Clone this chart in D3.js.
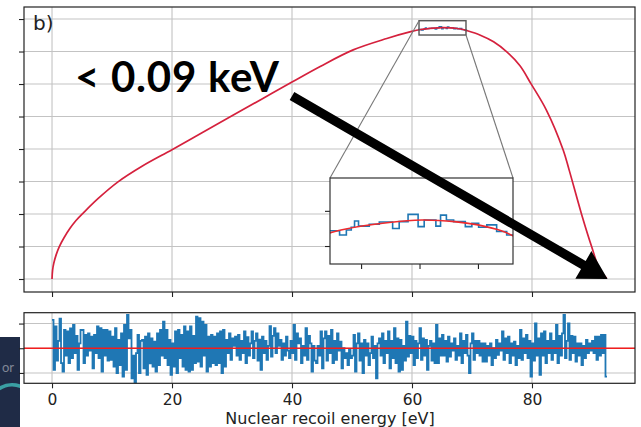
<!DOCTYPE html>
<html>
<head>
<meta charset="utf-8">
<script src="https://cdn.jsdelivr.net/npm/d3@7"></script>
<style>
  body { margin: 0; background: #fff; }
  svg { display: block; }
</style>
</head>
<body>
<svg width="641" height="427"></svg>
<script>
  // Fitted recoil spectrum, energy in eV, counts in grid units
  const curveEnergy = [0, 0.1, 0.3, 0.7, 1.2, 2, 3, 4, 5.3, 7.7, 11, 15, 20, 25, 30, 35,
    40, 44.7, 50.2, 55.8, 59.8, 61.5, 63.7, 65.1, 66.5, 67.5, 68.5, 69.0, 71.3, 73.6, 75.8,
    78, 79.8, 82.4, 85.2, 86.2, 88.3, 89.95, 91.3, 92.45];
  const curveCounts = [0, 0.28, 0.49, 0.75, 0.99, 1.27, 1.56, 1.8, 2.05, 2.48, 2.99, 3.47, 3.98, 4.5, 5.02, 5.54,
    6.06, 6.54, 7.05, 7.40, 7.61, 7.678, 7.72, 7.733, 7.725, 7.708, 7.678, 7.652, 7.51, 7.30, 6.99,
    6.56, 6.02, 5.2, 3.97, 3.35, 1.97, 0.99, 0.28, 0.02];

  // Simulated histogram around the peak (inset), bin edges and bin contents
  const insetEdges = [61.0, 61.58, 61.87, 62.08, 62.22, 62.39, 62.85, 63.28, 63.85, 64.13, 64.51, 64.94,
    65.2, 65.7, 65.9, 66.15, 66.46, 66.96, 67.24, 67.53, 67.88, 68.3, 68.73, 69.2];
  const insetCounts = [7.678, 7.656, 7.682, 7.696, 7.728, 7.702, 7.711, 7.723, 7.690, 7.725, 7.762, 7.699,
    7.733, 7.702, 7.758, 7.733, 7.725, 7.699, 7.716, 7.696, 7.708, 7.674, 7.656];

  // Residuals, one value per 0.25 eV bin starting at 0 eV
  const residualBinWidth = 0.25;
  const residuals = [
    1.15,-0.88,0.88,-0.5, 0.3,1.2,-0.6,-0.95, 0.74,-0.3,0.68,-0.6, 0.8,-0.4,0.95,-0.2, 0.5,-0.88,0.2,0.74,
    0.74,-0.6,0.54,-0.3, 0.6,-0.1,0.47,-0.81, 0.54,-0.2,0.88,-0.4, 0.81,-0.95,0.74,-0.3, 0.74,-0.5,0.68,-0.47,
    0.47,-0.74,0.81,-1.01, 0.34,-0.68,0.6,-1.15, 0.95,-0.88,1.35,0.4, 0.74,-1.22,-0.3,-1.4, -0.2,0.54,-1.01,0.3,
    0.34,-0.81,0.47,-1.08, 0.6,-0.61,0.4,-0.74, 0.27,-0.95,0.6,-0.68, 0.74,-0.3,1.08,-0.4, 0.74,-0.68,0.34,-1.08,
    0.2,-0.74,0.68,-1.01, 0.74,-0.4,0.54,-0.74, 0.88,-0.88,0.68,-0.95, 0.88,-0.88,0.5,-0.6, 1.28,-0.54,1.22,-0.74,
    1.08,-0.3,0.95,-0.95, 0.47,-0.74,0.54,-0.6, 0.47,-0.68,0.6,-0.6, 0.68,-1.01,0.74,-0.74, 0.34,-0.2,0.6,-0.47,
    0.4,0.1,0.47,-0.3, 0.54,-0.47,0.3,-0.2, 0.68,-0.6,0.45,-0.3, 0.2,0.68,-0.4,0.3, 0.6,-0.5,0.35,-0.88,
    0.47,-0.2,0.3,-0.47, 0.1,0.9,-0.34,0.5, 0.81,-0.2,0.6,0.1, 0.34,-0.47,0.2,-0.3, 0.47,-0.1,-0.4,0.3,
    -0.2,0.95,-0.47,0.6, 0.2,0.4,-0.6,0.1, -0.3,0.81,-0.47,0.5, 0.2,-0.95,0.1,-0.5, -0.6,0.1,-0.3,0.68,
    -0.81,0.4,0.68,-0.5, 0.5,-0.2,0.74,-0.6, 0.3,-0.47,0.6,-0.1, 0.27,-0.81,0.0,-0.4, -0.2,-0.68,-0.05,-0.4,
    -0.3,0.54,-0.95,0.2, 0.6,-0.5,0.2,-1.01, 0.34,-0.3,0.2,-0.68, -0.2,0.47,-0.4,0.1, -1.22,0.2,0.4,-0.3,
    0.6,-0.6,0.3,-0.2, 0.68,-0.81,0.3,-0.4, 0.81,-0.6,0.4,-0.95, 0.34,-0.88,0.1,-0.5, 1.08,-0.34,0.5,-0.2,
    0.47,-0.68,0.3,-0.4, 0.2,0.81,-0.47,0.4, -0.3,0.34,-0.88,0.1, 0.3,-0.5,0.2,-0.6, 0.95,-0.6,0.4,-0.3,
    0.54,-0.3,0.3,-0.54, 0.47,-0.34,0.2,-0.1, 0.4,-0.47,0.1,-0.3, 0.6,-0.6,0.3,-0.2, 0.54,-0.3,-1.01,0.2,
    0.6,-0.47,0.3,-0.2, 0.3,-0.3,0.2,-0.54, 0.2,-0.54,0.1,-0.3, 0.2,-0.68,0.0,-0.4, 0.34,-0.27,0.2,-0.1,
    0.68,-0.47,0.4,-0.2, 0.47,-0.6,0.2,-0.3, 0.27,-0.68,0.1,-0.4, 0.74,-0.47,0.4,-0.2, 0.54,-0.4,0.3,-1.15,
    0.2,-0.5,1.01,-0.3, 0.4,-1.08,0.6,-0.3, 0.68,-0.6,0.3,-0.2, 0.6,-0.47,0.3,-0.2, 0.95,-0.6,0.5,-0.3,
    0.6,1.35,-0.4,0.3, 1.01,-0.47,0.5,-0.2, 0.47,-0.54,0.2,-0.3, 0.2,-0.68,0.1,-0.4, 0.34,-0.2,0.2,-0.1,
    0.3,-0.2,0.47,-0.47, 0.47,-0.3,0.54,-0.2, 0.54,-1.15
  ];

  // Ticks
  const xTicks = [0, 20, 40, 60, 80];
  const mainYTicks = [0, 1, 2, 3, 4, 5, 6, 7, 8];
  const residualYTicks = [-1, 0, 1];
  const insetXTicks = [62.5, 65, 67.5];
  const insetYTicks = [7.6, 7.78];
  const zoomX = [61.17, 69.0];
  const zoomY = [7.508, 7.948];

  // Annotation
  const panelLabel = 'b)';
  const xLabel = 'Nuclear recoil energy [eV]';
  const noteText = '< 0.09 keV';
  const arrowFrom = [40, 5.63];
  const arrowTo = [92.6, 0];

  const svg = d3.select('svg');
  const W = +svg.attr('width'), H = +svg.attr('height');
  svg.append('rect').attr('width', W).attr('height', H).attr('fill', '#fff');

  // leftover of the slide underneath (bottom-left corner)
  const slide = svg.append('g');
  slide.append('clipPath').attr('id', 'slideClip')
    .append('rect').attr('x', 0).attr('y', 337).attr('width', 20).attr('height', 90);
  const sg = slide.append('g').attr('clip-path', 'url(#slideClip)');
  sg.append('rect').attr('x', 0).attr('y', 337).attr('width', 20).attr('height', 90).attr('fill', '#1f2b46');
  sg.append('text').attr('x', 2).attr('y', 372).text('or')
    .attr('font-family', 'Lato').attr('font-size', 13).attr('fill', '#7f8796');
  sg.append('path').attr('d', 'M24,388 A26,30 0 1,0 26,440')
    .attr('fill', 'none').attr('stroke', '#3a9fa3').attr('stroke-width', 3.5);

  const frame = { left: 24, right: 635 };
  const mainBox = { top: 7, bottom: 292 };
  const resBox = { top: 312.7, bottom: 383.3 };

  const x = d3.scaleLinear().domain([-4.67, 97.17]).range([frame.left, frame.right]);
  const yMain = d3.scaleLinear().domain([-0.4, 8.37]).range([mainBox.bottom, mainBox.top]);
  const yRes = d3.scaleLinear().domain([-1.42, 1.44]).range([resBox.bottom, resBox.top]);

  const gridColor = '#c3c3c3';
  const blue = '#1f77b4';

  function panel(yScale, box, yTicks, id) {
    const g = svg.append('g');
    g.append('rect').attr('x', frame.left).attr('y', box.top)
      .attr('width', frame.right - frame.left).attr('height', box.bottom - box.top).attr('fill', '#fff');
    g.append('clipPath').attr('id', id).append('rect')
      .attr('x', frame.left).attr('y', box.top)
      .attr('width', frame.right - frame.left).attr('height', box.bottom - box.top);
    const grid = g.append('g').attr('stroke', gridColor).attr('stroke-width', 1.1);
    grid.selectAll('.gx').data(xTicks).join('line')
      .attr('x1', d => x(d)).attr('x2', d => x(d)).attr('y1', box.top).attr('y2', box.bottom);
    grid.selectAll('.gy').data(yTicks).join('line')
      .attr('x1', frame.left).attr('x2', frame.right).attr('y1', d => yScale(d)).attr('y2', d => yScale(d));
    return g;
  }

  function frameAxes(g, yScale, box, yTicks, labels) {
    const ax = g.append('g').attr('transform', `translate(0,${box.bottom})`)
      .call(d3.axisBottom(x).tickValues(xTicks).tickSize(5).tickSizeOuter(0).tickPadding(6)
        .tickFormat(labels ? d3.format('d') : ''));
    ax.select('.domain').remove();
    ax.selectAll('line').attr('stroke', '#222').attr('stroke-width', 1.1);
    ax.selectAll('text').attr('font-family', 'DejaVu Sans').attr('font-size', 15.5).attr('fill', '#222');
    const ay = g.append('g').attr('transform', `translate(${frame.left},0)`)
      .call(d3.axisLeft(yScale).tickValues(yTicks).tickSize(5).tickSizeOuter(0).tickFormat(''));
    ay.select('.domain').remove();
    ay.selectAll('line').attr('stroke', '#222').attr('stroke-width', 1.1);
    g.append('rect').attr('x', frame.left).attr('y', box.top)
      .attr('width', frame.right - frame.left).attr('height', box.bottom - box.top)
      .attr('fill', 'none').attr('stroke', '#222').attr('stroke-width', 1.2);
  }

  // ---------- main panel ----------
  const gMain = panel(yMain, mainBox, mainYTicks, 'clipMain');
  const curvePts = curveEnergy.map((e, i) => [e, curveCounts[i]]);
  const insetPts = insetCounts.map((c, i) => [insetEdges[i], c])
    .concat([[insetEdges[insetEdges.length - 1], insetCounts[insetCounts.length - 1]]]);

  const smooth = d3.curveCatmullRom.alpha(0.5);
  const lineMain = d3.line().x(d => x(d[0])).y(d => yMain(d[1])).curve(smooth);
  const stepMain = d3.line().x(d => x(d[0])).y(d => yMain(d[1])).curve(d3.curveStepAfter);
  const dataMain = gMain.append('g').attr('clip-path', 'url(#clipMain)');
  dataMain.append('path').attr('d', stepMain(insetPts))
    .attr('fill', 'none').attr('stroke', blue).attr('stroke-width', 1.3);
  dataMain.append('path').attr('d', lineMain(curvePts))
    .attr('fill', 'none').attr('stroke', '#d5213d').attr('stroke-width', 1.7);

  svg.append('text').attr('x', 33).attr('y', 30).text(panelLabel)
    .attr('font-family', 'DejaVu Sans').attr('font-size', 20).attr('fill', '#222');

  // zoom indicator and connectors
  const zx0 = x(zoomX[0]), zx1 = x(zoomX[1]), zy0 = yMain(zoomY[1]), zy1 = yMain(zoomY[0]);
  const inset = { left: 330, right: 513, top: 178, bottom: 264 };
  gMain.append('rect').attr('x', zx0).attr('y', zy0).attr('width', zx1 - zx0).attr('height', zy1 - zy0)
    .attr('fill', 'none').attr('stroke', '#555').attr('stroke-width', 1.4);
  gMain.append('line').attr('x1', zx0).attr('y1', zy0).attr('x2', inset.left).attr('y2', inset.top)
    .attr('stroke', '#777').attr('stroke-width', 1.1);
  gMain.append('line').attr('x1', zx1).attr('y1', zy1).attr('x2', inset.right).attr('y2', inset.top)
    .attr('stroke', '#777').attr('stroke-width', 1.1);

  frameAxes(gMain, yMain, mainBox, mainYTicks, false);

  // ---------- inset ----------
  const xIn = d3.scaleLinear().domain(zoomX).range([inset.left, inset.right]);
  const yIn = d3.scaleLinear().domain(zoomY).range([inset.bottom, inset.top]);
  const gIn = svg.append('g');
  gIn.append('rect').attr('x', inset.left).attr('y', inset.top)
    .attr('width', inset.right - inset.left).attr('height', inset.bottom - inset.top).attr('fill', '#fff');
  gIn.append('clipPath').attr('id', 'clipIn').append('rect')
    .attr('x', inset.left).attr('y', inset.top)
    .attr('width', inset.right - inset.left).attr('height', inset.bottom - inset.top);
  const dataIn = gIn.append('g').attr('clip-path', 'url(#clipIn)');
  dataIn.append('path')
    .attr('d', d3.line().x(d => xIn(d[0])).y(d => yIn(d[1])).curve(d3.curveStepAfter)(insetPts))
    .attr('fill', 'none').attr('stroke', blue).attr('stroke-width', 1.6);
  dataIn.append('path')
    .attr('d', d3.line().x(d => xIn(d[0])).y(d => yIn(d[1])).curve(smooth)(curvePts))
    .attr('fill', 'none').attr('stroke', '#ee2a2e').attr('stroke-width', 1.6);
  const inAx = gIn.append('g').attr('transform', `translate(0,${inset.bottom})`)
    .call(d3.axisBottom(xIn).tickValues(insetXTicks).tickSize(5).tickSizeOuter(0).tickFormat(''));
  inAx.select('.domain').remove();
  const inAy = gIn.append('g').attr('transform', `translate(${inset.left},0)`)
    .call(d3.axisLeft(yIn).tickValues(insetYTicks).tickSize(5).tickSizeOuter(0).tickFormat(''));
  inAy.select('.domain').remove();
  gIn.selectAll('.tick line').attr('stroke', '#222').attr('stroke-width', 1.1);
  gIn.append('rect').attr('x', inset.left).attr('y', inset.top)
    .attr('width', inset.right - inset.left).attr('height', inset.bottom - inset.top)
    .attr('fill', 'none').attr('stroke', '#333').attr('stroke-width', 1.2);

  // ---------- residual panel ----------
  const gRes = panel(yRes, resBox, residualYTicks, 'clipRes');
  const resPts = residuals.map((v, i) => [i * residualBinWidth, v]);
  resPts.push([residuals.length * residualBinWidth, residuals[residuals.length - 1]]);
  const dataRes = gRes.append('g').attr('clip-path', 'url(#clipRes)');
  dataRes.append('path')
    .attr('d', d3.line().x(d => x(d[0])).y(d => yRes(d[1])).curve(d3.curveStepAfter)(resPts))
    .attr('fill', 'none').attr('stroke', blue).attr('stroke-width', 1.8);
  dataRes.append('line').attr('x1', frame.left).attr('x2', frame.right)
    .attr('y1', yRes(0)).attr('y2', yRes(0)).attr('stroke', '#f21d1d').attr('stroke-width', 1.4);
  frameAxes(gRes, yRes, resBox, residualYTicks, true);

  svg.append('text').attr('x', (frame.left + frame.right) / 2 + 0.5).attr('y', 424)
    .attr('text-anchor', 'middle').text(xLabel)
    .attr('font-family', 'DejaVu Sans').attr('font-size', 16).attr('fill', '#222');

  // ---------- annotation ----------
  svg.append('text').attr('x', 75).attr('y', 92).text(noteText)
    .attr('font-family', 'Lato').attr('font-weight', 700).attr('font-size', 42)
    .attr('textLength', 204).attr('lengthAdjust', 'spacing').attr('fill', '#000');

  const ax0 = x(arrowFrom[0]), ay0 = yMain(arrowFrom[1]);
  const ax1 = x(arrowTo[0]), ay1 = yMain(arrowTo[1]);
  const len = Math.hypot(ax1 - ax0, ay1 - ay0);
  const ang = Math.atan2(ay1 - ay0, ax1 - ax0) * 180 / Math.PI;
  const shaft = 4.6, headLen = 28, headHalf = 16;
  svg.append('path')
    .attr('transform', `translate(${ax0},${ay0}) rotate(${ang})`)
    .attr('d', `M0,${-shaft}L${len - headLen},${-shaft}L${len - headLen},${-headHalf}L${len},0` +
      `L${len - headLen},${headHalf}L${len - headLen},${shaft}L0,${shaft}Z`)
    .attr('fill', '#000');
</script>
</body>
</html>
